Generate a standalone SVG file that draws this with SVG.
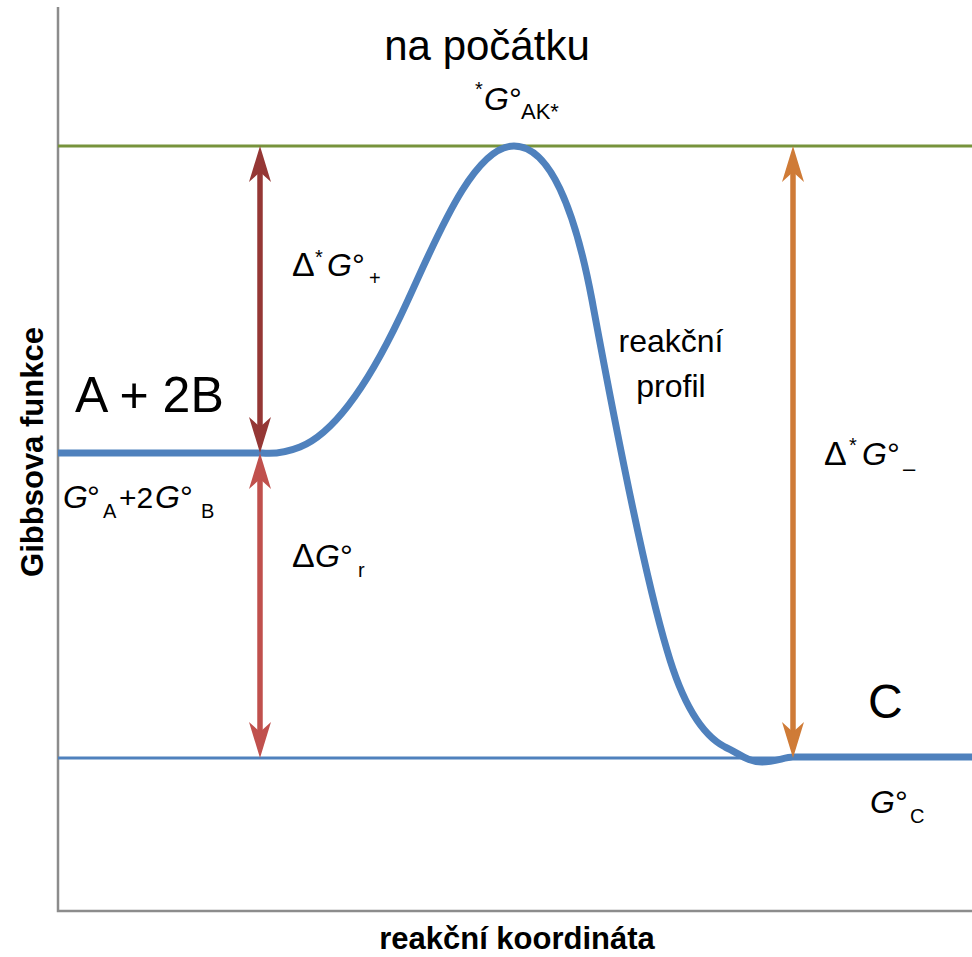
<svg xmlns="http://www.w3.org/2000/svg" width="972" height="957" viewBox="0 0 972 957">
<style>
.t{font-family:"Liberation Sans",Arial,sans-serif;fill:#000}
.it{font-style:italic}
.b{font-weight:bold}
.axis{stroke:#8C8C8C;stroke-width:2.5;fill:none}
</style>
<defs>
<path id="head" d="M0,0 L11,36 L0,26 L-11,36 Z"/>
</defs>
<rect width="972" height="957" fill="#fff"/>
<g id="axes">
<path class="axis" d="M58,7 V911 H972"/>
</g>
<g id="levels">
<line x1="58" y1="146" x2="972" y2="146" stroke="#77933C" stroke-width="3"/>
<line x1="58" y1="758" x2="972" y2="758" stroke="#4F81BD" stroke-width="3"/>
</g>
<g id="profile">
<path d="M58,453 L262,453 C272,454 285,453 300,447 C335,433 370,380 400,317 C430,255 470,146 514,146 C550,146 575,210 592,300 C605,370 640,560 667,650 C680,695 698,733 725,747 C740,754 748,762 762,762 C775,762 785,757 793,757 L972,757" fill="none" stroke="#4F81BD" stroke-width="7" stroke-linejoin="round"/>
</g>
<g id="connectors">
<g id="dG-plus" fill="#953735">
<line x1="260" y1="170" x2="260" y2="429" stroke="#953735" stroke-width="5.5"/>
<use href="#head" transform="translate(260,146)"/>
<use href="#head" transform="translate(260,453) rotate(180)"/>
</g>
<g id="dG-r" fill="#C0504D">
<line x1="260" y1="477" x2="260" y2="734" stroke="#C0504D" stroke-width="5.5"/>
<use href="#head" transform="translate(260,453)"/>
<use href="#head" transform="translate(260,758) rotate(180)"/>
</g>
<g id="dG-minus" fill="#CF7B37">
<line x1="793" y1="170" x2="793" y2="734" stroke="#CF7B37" stroke-width="5.5"/>
<use href="#head" transform="translate(793,146)"/>
<use href="#head" transform="translate(793,758) rotate(180)"/>
</g>
</g>
<g id="title">
<text class="t" x="487" y="60" font-size="42" text-anchor="middle">na počátku</text>
</g>
<g id="label-AK">
<text class="t" font-size="32"><tspan x="475" y="96" font-size="20">*</tspan><tspan class="it" x="484" y="110">G</tspan><tspan x="509" y="110">°</tspan><tspan x="521" y="119" font-size="22">AK*</tspan></text>
</g>
<g id="label-reactants">
<text class="t" x="75" y="412" font-size="50">A + 2B</text>
<text class="t" font-size="32"><tspan class="it" x="63" y="508">G</tspan><tspan x="87" y="508">°</tspan><tspan x="103" y="518" font-size="20">A</tspan><tspan x="119" y="508" font-size="30">+2</tspan><tspan class="it" x="155" y="508">G</tspan><tspan x="180" y="508">°</tspan><tspan x="201" y="518" font-size="20">B</tspan></text>
</g>
<g id="label-dGplus">
<text class="t" font-size="32"><tspan x="292" y="276" font-size="34">Δ</tspan><tspan x="315" y="264" font-size="20">*</tspan><tspan class="it" x="327" y="276">G</tspan><tspan x="352" y="276">°</tspan><tspan x="369" y="285" font-size="20">+</tspan></text>
</g>
<g id="label-dGr">
<text class="t" font-size="32"><tspan x="292" y="567" font-size="34">Δ</tspan><tspan class="it" x="315" y="567">G</tspan><tspan x="340" y="567">°</tspan><tspan x="358" y="577" font-size="20">r</tspan></text>
</g>
<g id="label-profile">
<text class="t" font-size="32" text-anchor="middle"><tspan x="671" y="352">reakční</tspan><tspan x="671" y="397">profil</tspan></text>
</g>
<g id="label-dGminus">
<text class="t" font-size="32"><tspan x="824" y="465" font-size="34">Δ</tspan><tspan x="849" y="452" font-size="20">*</tspan><tspan class="it" x="862" y="465">G</tspan><tspan x="887" y="465">°</tspan><tspan x="903" y="476" font-size="22">–</tspan></text>
</g>
<g id="label-product">
<text class="t" x="868" y="718" font-size="48">C</text>
<text class="t" font-size="32"><tspan class="it" x="870" y="813">G</tspan><tspan x="895" y="813">°</tspan><tspan x="910" y="823" font-size="20">C</tspan></text>
</g>
<g id="axis-labels">
<text class="t b" font-size="31" text-anchor="middle" transform="translate(43,452) rotate(-90)">Gibbsova funkce</text>
<text class="t b" x="517" y="949" font-size="31" text-anchor="middle">reakční koordináta</text>
</g>
</svg>
